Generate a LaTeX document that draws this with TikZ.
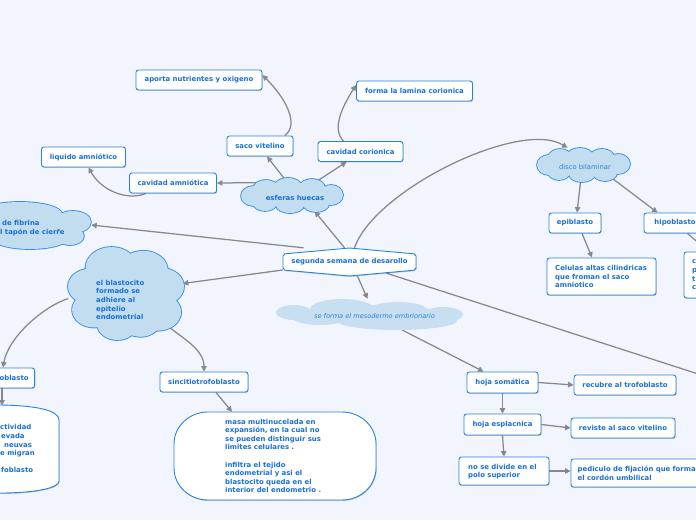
\documentclass[tikz,border=0pt]{standalone}
\usepackage{fontspec}
\setmainfont{DejaVu Sans}
\usetikzlibrary{shapes.geometric,shadows,arrows.meta}
\definecolor{bgc}{RGB}{242,245,253}
\definecolor{txt}{RGB}{25,112,212}
\definecolor{ltxt}{RGB}{45,132,212}
\definecolor{bord}{RGB}{40,130,228}
\definecolor{cbord}{RGB}{50,138,230}
\definecolor{cloudfill}{RGB}{194,220,240}
\definecolor{mesofill}{RGB}{200,223,241}
\definecolor{edgec}{RGB}{135,135,140}
\newcommand\mmfont{\fontsize{6.9}{8.6}\selectfont\bfseries}
\newcommand\mycloud[1]{%
  \foreach \cx/\cy/\rx/\ry in {#1} {\path[draw=cbord, line width=1.7pt, fill=cloudfill] (\cx,\cy) ellipse [x radius=\rx pt, y radius=\ry pt];}%
  \foreach \cx/\cy/\rx/\ry in {#1} {\path[fill=cloudfill] (\cx,\cy) ellipse [x radius=\rx pt, y radius=\ry pt];}%
}
\pgfdeclarelayer{back}
\pgfdeclarelayer{edges}
\pgfsetlayers{back,edges,main}
\tikzset{
  shad/.style={drop shadow={shadow xshift=0.6pt,shadow yshift=-0.9pt,opacity=0.22,fill=black}},
  box/.style={draw=bord, line width=0.9pt, fill=white, rounded corners=2.5pt, font=\mmfont, text=txt, inner sep=0pt, minimum height=20pt, shad},
  shp/.style={draw=bord, line width=0.9pt, fill=white, shad},
  anc/.style={ellipse, inner sep=0pt},
  lbl/.style={font=\mmfont, text=txt, align=left, inner sep=0pt},
  con/.style={draw=edgec, line width=1.25pt, -{Triangle[length=5.5pt,width=5.5pt]}},
}
\begin{document}
\begin{tikzpicture}[x=1pt,y=-1pt]
\begin{pgfonlayer}{back}
\fill[bgc] (0,0) rectangle (696,520);
\end{pgfonlayer}
\useasboundingbox (0,0) rectangle (696,520);

% clouds
\mycloud{20/214/42/12, 73/222/18/11, 70/236/14/9, 30/238/38/11, 10/225/50/15}
\node[anc, minimum width=146pt, minimum height=48pt] (fib) at (18,225) {};
\node[lbl, anchor=west] (fibt) at (0,228) {\hspace*{2pt}de fibrina\\l tapón de cierre};

\mycloud{292/196/40/11, 254/196/13/10, 266/189/13/9, 288/187/14/9, 312/188/13/9, 331/195/12/10, 265/203/12/8, 290/205/14/8, 316/204/13/8}
\node[anc, minimum width=102pt, minimum height=35pt] (esf) at (292,195.5) {};
\node[font=\mmfont, text=txt, inner sep=0pt] (esft) at (295,198) {esferas huecas};

\mycloud{583.5/165/36/11, 549/165/12/10, 560/158/12/9, 580/156/13/8, 602/157/12/8, 618/164/12/10, 559/172/11/8, 582/174/13/8, 605/173/12/8}
\node[anc, minimum width=93pt, minimum height=34pt] (disco) at (583.5,165) {};
\node[font=\fontsize{6.8}{8}\selectfont, text=ltxt, inner sep=0pt] (discot) at (585,167) {disco bilaminar};

\mycloud{111.5/268/26/21, 143.4/270.3/24.4/19.5, 160.8/286.5/23.2/18.6, 157.9/312.1/23.2/18.6, 140.5/320.5/20.3/16.3, 117.3/323.7/20.3/16.3, 94.1/309.8/22/17.7, 90/286.5/22/17.7, 126/293.5/35/28}
\node[anc, minimum width=116pt, minimum height=93pt] (blast) at (126,293.5) {};
\node[lbl, anchor=west] (blastt) at (96,300) {el blastocito\\formado se\\adhiere al\\epitelio\\endometrial};

\foreach \cx/\cy/\rx/\ry in {294/312.5/18/7.5, 320/318/27/7, 342/309/32/10, 398/310/29/8, 443/314.5/20/7.5, 397/321/60/9, 370/314/70/9}
  {\path[fill=mesofill] (\cx,\cy) ellipse [x radius=\rx pt, y radius=\ry pt];}
\node[anc, minimum width=187pt, minimum height=31pt] (meso) at (369.5,314.5) {};
\node[font=\fontsize{6.6}{8}\selectfont\itshape, text=ltxt, inner sep=0pt] (mesot) at (374.5,316.5) {se forma el mesodermo embrionario};

% central node
\path[shp, rounded corners=2pt] (283,254) -- (349.5,248) -- (416,254) -- (416,270) -- (349.5,276) -- (283,270) -- cycle;
\node[font=\mmfont, text=txt, inner sep=0pt, minimum width=133pt, minimum height=28pt] (seg) at (349.5,262) {segunda semana de desarollo};

% boxes
\node[box, minimum width=126pt] (apo) at (199,80) {aporta nutrientes y oxigeno};
\node[box, minimum width=116pt] (for) at (414.5,91) {forma la lamina corionica};
\node[box, minimum width=66pt] (saco) at (260,146) {saco vitelino};
\node[box, minimum width=85pt] (cavc) at (360.5,151.5) {cavidad corionica};
\node[box, minimum width=84pt] (liq) at (83.5,157) {liquido amniótico};
\node[box, minimum width=87pt] (cava) at (173,183) {cavidad amniótica};
\node[box, minimum width=52pt] (epi) at (575,223) {epiblasto};
\node[box, minimum width=62pt] (hipo) at (675,223) {hipoblasto};
\node[box, minimum width=109pt, minimum height=37pt] (cel) at (601.5,276.5) {};
\node[lbl, anchor=west] (celt) at (555,276.5) {Celulas altas cilindricas\\que froman el saco\\amniotico};
\node[box, minimum width=80pt, minimum height=46pt] (rb) at (724,275) {};
\node[lbl, anchor=west] (rbt) at (692,275) {c\\p\\t\\c};
\node[box, minimum width=71pt, minimum height=21pt] (som) at (502.5,382.5) {hoja somática};
\node[box, minimum width=102pt] (rec) at (625,385) {recubre al trofoblasto};
\node[box, minimum width=77pt, minimum height=21pt] (esp) at (502.5,424.5) {hoja esplacnica};
\node[box, minimum width=104pt] (rev) at (623,428) {reviste al saco vitelino};
\node[box, minimum width=90pt, minimum height=28pt] (nodiv) at (504,471) {};
\node[lbl, anchor=west] (nodivt) at (468,471.5) {no se divide en el\\polo superior};
\node[box, minimum width=140pt, minimum height=28pt] (ped) at (641,473) {};
\node[lbl, anchor=west] (pedt) at (577.5,473.5) {pediculo de fijación que forma\\el cordón umbilical};
\node[box, minimum width=88pt] (sinc) at (204,382) {sincitiotrofoblasto};
\node[box, anchor=east, minimum width=100pt, text width=88pt, inner xsep=6pt, align=right] (cito) at (35,378) {oblasto};

% big rounded shapes
\path[shp] (208,412) -- (342,412) .. controls (360.8,412) and (376,426.3) .. (376,444) -- (376,468) .. controls (376,485.7) and (360.8,500) .. (342,500) -- (208,500) .. controls (189.2,500) and (174,485.7) .. (174,468) -- (174,444) .. controls (174,426.3) and (189.2,412) .. (208,412) -- cycle;
\node[inner sep=0pt, minimum width=202pt, minimum height=88pt] (masa) at (275,456) {};
\node[lbl, anchor=west] (masat) at (225,456) {masa multinucelada en\\expansión, en la cual no\\se pueden distinguir sus\\limites celulares .\\\mbox{}\\infiltra el tejido\\endometrial y asi el\\blastocito queda en el\\interior del endometrio .};
\path[shp] (-80,405) -- (0,405) .. controls (35,405.5) and (59,410) .. (59,420) -- (59,481) .. controls (59,488) and (35,493) .. (0,493) -- (-80,493) -- cycle;
\coordinate (lstop) at (2,405.5);
\node[lbl, anchor=north west] (lst) at (0,424.5) {ctividad\\\hspace*{1pt}evada\\\hspace*{4pt}neuvas\\e migran\\\mbox{}\\\hspace*{1pt}foblasto};

\coordinate (offr) at (760,394);

\begin{pgfonlayer}{edges}
\draw[con] ([xshift=-5pt]seg.north) -- (esf.-35);
\draw[con] (esf.115) -- ([xshift=7pt]saco.south);
\draw[con] (esf.30) -- ([xshift=-14pt]cavc.south);
\draw[con] (esf.160) -- (cava.east);
\draw[con] ([xshift=-27pt]cava.south) .. controls +(-20,8) and +(12,22) .. ([xshift=5pt]liq.south);
\draw[con] ([xshift=25pt]saco.north) .. controls +(15,-12) and +(22,22) .. ([yshift=5pt]apo.east);
\draw[con] ([xshift=-17pt]cavc.north) .. controls +(-12,-12) and +(-14,22) .. ([yshift=6pt]for.west);
\draw[con] ([xshift=5pt]seg.north) .. controls +(20,-58) and +(-47,-29) .. ([xshift=-16pt]disco.north);
\draw[con] ([xshift=-46pt]seg.north) -- (fib.east);
\draw[con] ([yshift=-8pt]seg.west) -- (blast.10);
\draw[con] ([xshift=8pt]seg.south) -- ([xshift=-2pt]meso.north);
\draw[draw=edgec, line width=1.25pt] ([xshift=37pt,yshift=3pt]seg.south) -- (offr);
\draw[con] ([xshift=33pt]meso.south) -- ([xshift=-19pt]som.north);
\draw[con] (som.east) -- (rec.west);
\draw[con] (som.south) -- (esp.north);
\draw[con] (esp.east) -- (rev.west);
\draw[con] (esp.south) -- (nodiv.north);
\draw[con] (nodiv.east) -- (nodiv.east -| ped.west);
\draw[con] (blast.185) .. controls +(-25,8) and +(5,-30) .. ([xshift=-32pt]cito.north east);
\draw[con] (blast.-38) .. controls +(15,12) and +(0,-22) .. (sinc.north);
\draw[con] ([xshift=-33pt]cito.south east) -- (lstop);
\draw[con] ([xshift=12pt]sinc.south) -- ([xshift=-43pt]masa.north);
\draw[con] ([xshift=-3pt]disco.south) -- ([xshift=2pt]epi.north);
\draw[con] (disco.-25) -- ([xshift=14pt]hipo.north west);
\draw[con] ([xshift=7pt]epi.south) -- ([xshift=-9.5pt]cel.north);
\draw[con] ([xshift=44pt]hipo.south west) -- ([xshift=25pt]rb.north west);
\end{pgfonlayer}
\end{tikzpicture}
\end{document}
